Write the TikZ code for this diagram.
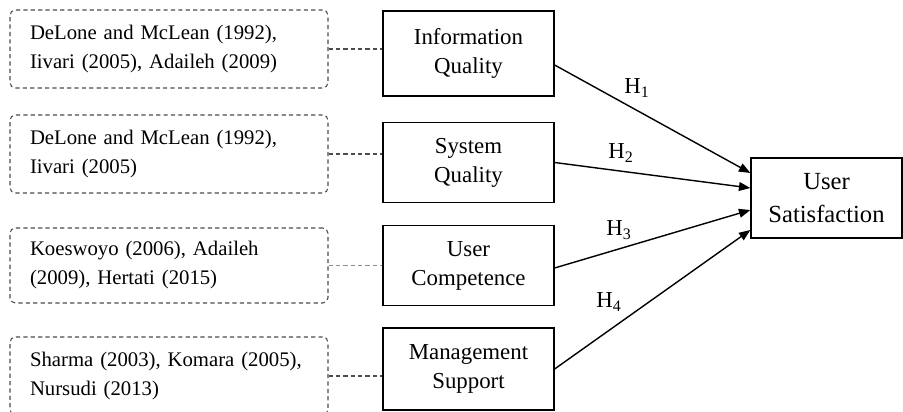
\documentclass[tikz,border=0pt]{standalone}
\usepackage{fontspec}
\setmainfont{Liberation Serif}
\usetikzlibrary{arrows.meta}

\begin{document}
\begin{tikzpicture}[
  refbox/.style={draw=black!70,line width=0.6pt,dash pattern=on 2.4pt off 1.8pt,rounded corners=3pt,minimum width=6.36cm,minimum height=1.56cm,text width=5.56cm,align=left,font=\fontsize{11.8}{16.5}\selectfont},
  varbox/.style={draw,line width=0.7pt,minimum width=3.42cm,minimum height=1.6cm,align=center,font=\fontsize{13}{16.5}\selectfont},
  link/.style={black!70,line width=0.6pt,dash pattern=on 2.4pt off 1.8pt},
  hyp/.style={line width=0.8pt,-{Triangle[length=6.5pt,width=5pt]}},
  hlabel/.style={font=\fontsize{13}{15}\selectfont}
]
%\draw[step=1cm,gray!30,very thin] (0,0) grid (18,8); %helper grid
\useasboundingbox (0,0) rectangle (18.06,8.22);

\node[refbox] (r1) at (3.38,7.24) {DeLone and McLean (1992),\\Iivari (2005), Adaileh (2009)};
\node[refbox] (r2) at (3.38,5.14) {DeLone and McLean (1992),\\Iivari (2005)};
\node[refbox,minimum height=1.5cm] (r3) at (3.38,2.91) {Koeswoyo (2006), Adaileh\\(2009), Hertati (2015)};
\node[refbox] (r4) at (3.38,0.70) {Sharma (2003), Komara (2005),\\Nursudi (2013)};

\node[varbox,minimum height=1.7cm] (iq) at (9.37,7.15) {Information\\Quality};
\node[varbox] (sq) at (9.37,4.97) {System\\Quality};
\node[varbox] (uc) at (9.37,2.91) {User\\Competence};
\node[varbox,minimum height=1.64cm] (ms) at (9.37,0.84) {Management\\Support};
\node[varbox,minimum width=3.02cm,font=\fontsize{14}{18.8}\selectfont] (us) at (16.53,4.26) {User\\Satisfaction};

\draw[link] (r1.east) -- (r1.east -| iq.west);
\draw[link] (r2.east) -- (r2.east -| sq.west);
\draw[link,black!45] (r3.east) -- (r3.east -| uc.west);
\draw[link] (r4.east) -- (r4.east -| ms.west);

\coordinate (t1) at ([yshift=0.5cm]us.west);
\coordinate (t2) at ([yshift=0.2cm]us.west);
\coordinate (t3) at ([yshift=-0.24cm]us.west);
\coordinate (t4) at ([yshift=-0.64cm]us.west);
\draw[hyp] ([yshift=-0.23cm]iq.east) -- (t1);
\draw[hyp] (sq.east) -- (t2);
\draw[hyp] ([yshift=-0.05cm]uc.east) -- (t3);
\draw[hyp] (ms.east) -- (t4);

\node[hlabel] (h1) at (12.74,6.46) {H\textsubscript{1}};
\node[hlabel] (h2) at (12.42,5.16) {H\textsubscript{2}};
\node[hlabel] (h3) at (12.38,3.62) {H\textsubscript{3}};
\node[hlabel] (h4) at (12.18,2.18) {H\textsubscript{4}};
\end{tikzpicture}
\end{document}
